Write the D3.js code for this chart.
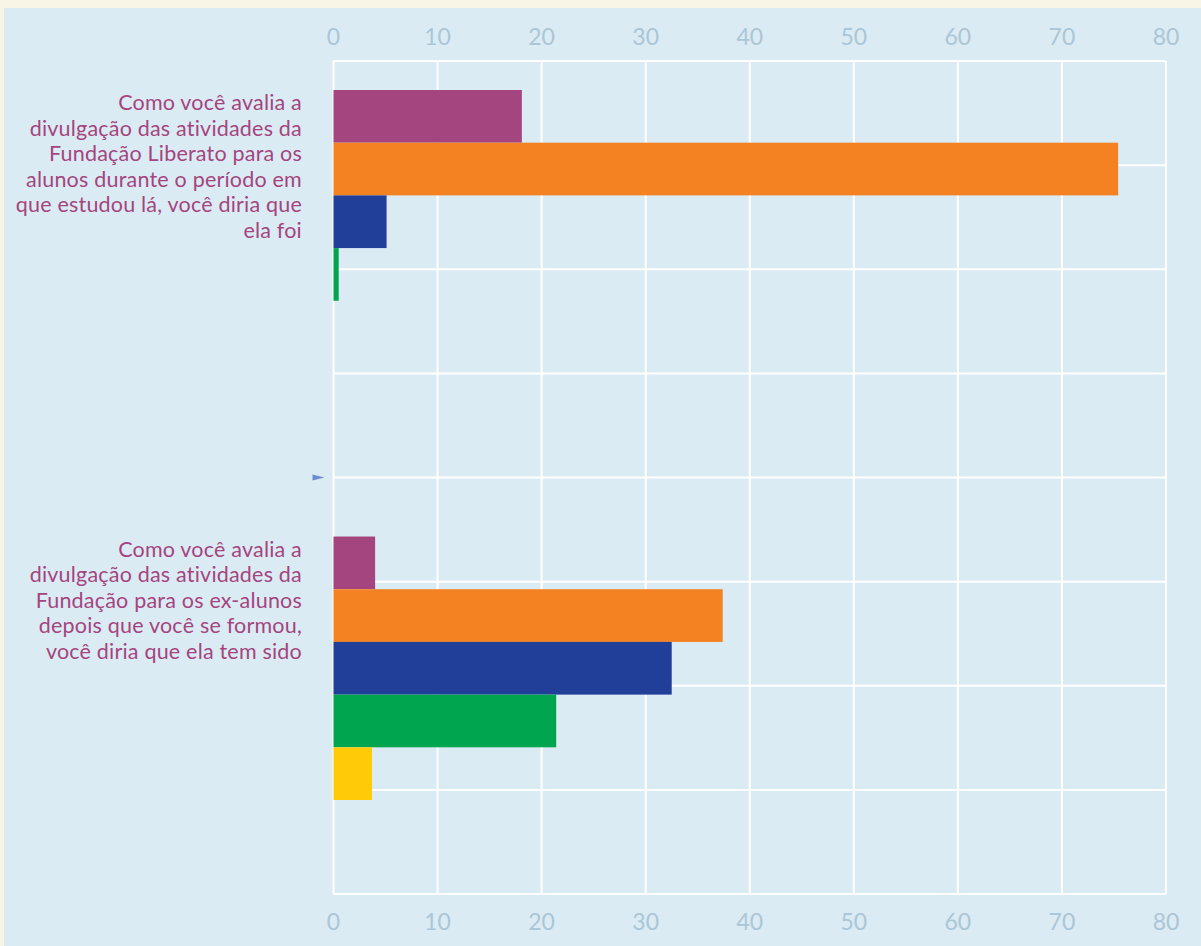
<!DOCTYPE html>
<html>
<head>
<meta charset="utf-8">
<script src="https://cdn.jsdelivr.net/npm/d3@7"></script>
<style>
  html, body { margin: 0; padding: 0; background: #f8f5e7; overflow: hidden; }
  svg { display: block; }
</style>
</head>
<body>
<div id="chart"></div>
<script>
// perguntas (categorias) e rótulos quebrados em linhas
const questions = ['q1', 'q2'];
const questionLines = [
    ['Como você avalia a', 'divulgação das atividades da', 'Fundação Liberato para os',
     'alunos durante o período em', 'que estudou lá, você diria que', 'ela foi'],
    ['Como você avalia a', 'divulgação das atividades da', 'Fundação para os ex-alunos',
     'depois que você se formou,', 'você diria que ela tem sido']
];

// séries (ordem de cima para baixo dentro de cada grupo)
const seriesKeys = ['s1', 's2', 's3', 's4', 's5'];
const seriesColors = ['#a44580', '#f48222', '#213f99', '#00a550', '#ffcb08'];

// valores (%)
const valuesQ1 = [18.1, 75.4, 5.1, 0.5, 0];
const valuesQ2 = [4.0, 37.4, 32.5, 21.4, 3.7];

const xTicks = [0, 10, 20, 30, 40, 50, 60, 70, 80];
const rowLines = [0, 1, 2, 3, 4, 5, 6, 7, 8];

const width = 1201, height = 946;
const margin = { top: 61, right: 35, bottom: 52, left: 333.5 };
const innerWidth = width - margin.left - margin.right;
const innerHeight = height - margin.top - margin.bottom;

const svg = d3.select('#chart').append('svg')
    .attr('width', width)
    .attr('height', height);

// fundo creme + painel azul claro
svg.append('rect').attr('width', width).attr('height', height).attr('fill', '#f8f5e7');
svg.append('rect').attr('x', 4).attr('y', 8)
    .attr('width', width - 4).attr('height', height - 8)
    .attr('fill', '#dbebf3');

const g = svg.append('g')
    .attr('transform', `translate(${margin.left},${margin.top})`);

// escalas
const x = d3.scaleLinear().domain([0, 80]).range([0, innerWidth]);
const yGrid = d3.scaleLinear().domain([0, 8]).range([0, innerHeight]);
const y = d3.scaleBand().domain(questions).range([29, 739]).paddingInner(0.41).paddingOuter(0);
const ySeries = d3.scaleBand().domain(seriesKeys).range([0, y.bandwidth()]).padding(0);

// grade
g.append('g').selectAll('line')
    .data(xTicks)
    .join('line')
    .attr('x1', d => x(d)).attr('x2', d => x(d))
    .attr('y1', 0).attr('y2', innerHeight)
    .attr('stroke', '#ffffff').attr('stroke-width', 2);

g.append('g').selectAll('line')
    .data(rowLines)
    .join('line')
    .attr('x1', 0).attr('x2', innerWidth)
    .attr('y1', d => yGrid(d)).attr('y2', d => yGrid(d))
    .attr('stroke', '#ffffff').attr('stroke-width', 2);

// barras
const data = [valuesQ1, valuesQ2];
const groups = g.selectAll('.question')
    .data(questions)
    .join('g')
    .attr('class', 'question')
    .attr('transform', d => `translate(0,${y(d)})`);

groups.selectAll('rect')
    .data((q, i) => data[i].map((v, j) => ({ key: seriesKeys[j], value: v, color: seriesColors[j] })))
    .join('rect')
    .attr('x', x(0))
    .attr('y', d => ySeries(d.key))
    .attr('width', d => x(d.value) - x(0))
    .attr('height', ySeries.bandwidth())
    .attr('fill', d => d.color);

// rótulos do eixo x, em cima e embaixo
[-16, innerHeight + 36].forEach(yy => {
    g.append('g').selectAll('text')
        .data(xTicks)
        .join('text')
        .attr('x', d => x(d))
        .attr('y', yy)
        .attr('text-anchor', 'middle')
        .attr('fill', '#abc6d6')
        .style('font-family', 'Lato, sans-serif')
        .style('font-size', '23px')
        .text(d => d);
});

// marcador entre os grupos
g.append('path')
    .attr('transform', `translate(0,${yGrid(4)})`)
    .attr('d', 'M-21,-3L-9,0L-21,3Z')
    .attr('fill', '#6c8ecb');

// rótulos das perguntas
groups.selectAll('.qlabel')
    .data((q, i) => questionLines[i])
    .join('text')
    .attr('class', 'qlabel')
    .attr('text-anchor', 'end')
    .attr('fill', '#a4457f')
    .style('font-family', 'Lato, sans-serif')
    .style('font-size', '21.5px')
    .style('letter-spacing', '0.2px')
    .attr('x', -31.5)
    .attr('y', (d, i) => 20 + i * 25.5)
    .text(d => d);
</script>
</body>
</html>
